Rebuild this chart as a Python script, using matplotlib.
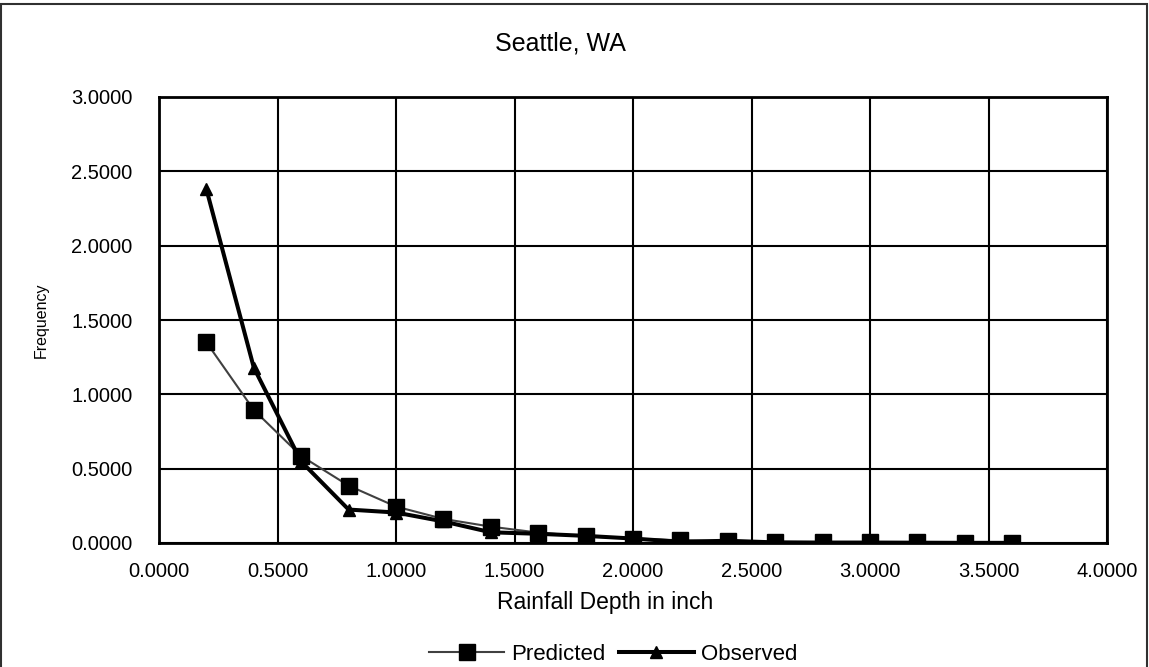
import matplotlib
matplotlib.use("Agg")
import matplotlib.pyplot as plt
from matplotlib.patches import Rectangle

plt.rcParams['font.family'] = ['Liberation Sans', 'DejaVu Sans']

# rainfall depth bins (inch)
depth = [0.2, 0.4, 0.6, 0.8, 1.0, 1.2, 1.4, 1.6, 1.8, 2.0,
         2.2, 2.4, 2.6, 2.8, 3.0, 3.2, 3.4, 3.6]
predicted = [1.350, 0.895, 0.585, 0.386, 0.245, 0.162, 0.110, 0.070, 0.045, 0.030,
             0.018, 0.014, 0.008, 0.006, 0.005, 0.004, 0.003, 0.002]
observed = [2.380, 1.180, 0.548, 0.225, 0.205, 0.145, 0.072, 0.062, 0.048, 0.030,
            0.008, 0.015, 0.004, 0.003, 0.003, 0.002, 0.001, 0.001]

x_ticks = [0.0, 0.5, 1.0, 1.5, 2.0, 2.5, 3.0, 3.5, 4.0]
y_ticks = [0.0, 0.5, 1.0, 1.5, 2.0, 2.5, 3.0]

W, H = 1149, 667
fig = plt.figure(figsize=(W / 100, H / 100), dpi=100)
ax = fig.add_axes([159 / W, 1 - 543 / H, (1107 - 159) / W, (543 - 97) / H])

ax.plot(depth, predicted, color='#404040', linewidth=1.5, marker='s',
        markersize=12, markerfacecolor='black', markeredgecolor='black',
        label='Predicted', zorder=3)
ax.plot(depth, observed, color='black', linewidth=2.9, marker='^',
        markersize=8.5, markerfacecolor='black', markeredgecolor='black',
        label='Observed', zorder=4)

ax.set_xlim(0, 4)
ax.set_ylim(0, 3)
ax.set_xticks(x_ticks)
ax.set_yticks(y_ticks)
ax.set_xticklabels(['%.4f' % v for v in x_ticks])
ax.set_yticklabels(['%.4f' % v for v in y_ticks])
ax.tick_params(axis='both', labelsize=14.5, length=0)
ax.tick_params(axis='y', pad=19)
ax.tick_params(axis='x', pad=14)
ax.grid(True, color='black', linewidth=1.5)
for s in ax.spines.values():
    s.set_linewidth(2)
ax.set_axisbelow(True)

fig.text(560 / W, 1 - 44 / H, 'Seattle, WA', ha='center', va='center', fontsize=18)
fig.text(41 / W, 1 - 320 / H, 'Frequency', ha='center', va='center',
         rotation=90, fontsize=11.5)
fig.text(605 / W, 1 - 603 / H, 'Rainfall Depth in inch', ha='center', va='center',
         fontsize=16.5)

fig.legend(loc='center', bbox_to_anchor=(613 / W, 1 - 654 / H), ncol=2,
           frameon=False, fontsize=16, handlelength=3.4, handletextpad=0.3,
           columnspacing=0.6)

# chart border
fig.patches.append(Rectangle((1 / W, -0.01), (1147 - 1) / W, 1 - 4 / H + 0.01,
                             transform=fig.transFigure, fill=False,
                             edgecolor='#303030', linewidth=1.5))

fig.savefig('out.png', dpi=100)
